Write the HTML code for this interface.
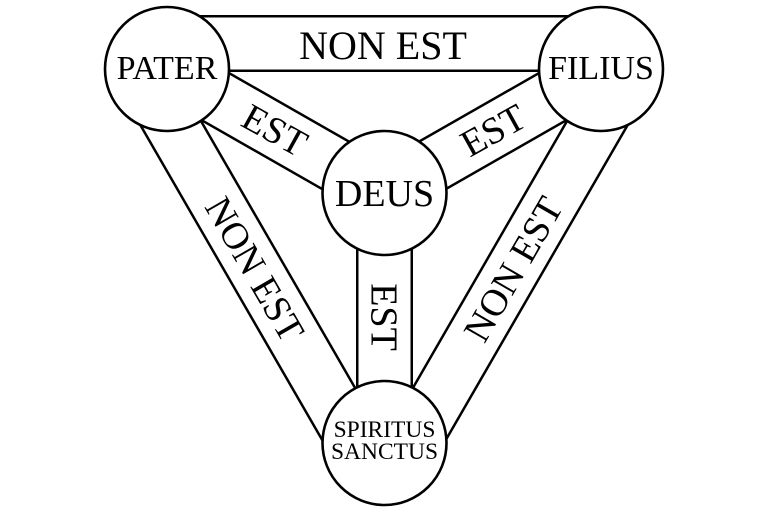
<!DOCTYPE html>
<html><head><style>body{margin:0;background:#fff}svg{display:block}</style></head><body>
<svg width="768" height="512" viewBox="0 0 768 512" xmlns="http://www.w3.org/2000/svg" font-family="'Liberation Serif',serif">
<g stroke-linecap="butt">
<g stroke="#000" stroke-width="57">
<line x1="167" y1="43.5" x2="601" y2="43.5"/>
<line x1="143.5" y1="76" x2="356" y2="444"/>
<line x1="624.5" y1="76" x2="412" y2="444"/>
<line x1="167" y1="69" x2="384" y2="193"/>
<line x1="601" y1="69" x2="384" y2="193"/>
<line x1="384.5" y1="193" x2="384.5" y2="443"/>
</g>
<g stroke="#fff" stroke-width="52">
<line x1="167" y1="43.5" x2="601" y2="43.5"/>
<line x1="143.5" y1="76" x2="356" y2="444"/>
<line x1="624.5" y1="76" x2="412" y2="444"/>
<line x1="167" y1="69" x2="384" y2="193"/>
<line x1="601" y1="69" x2="384" y2="193"/>
<line x1="384.5" y1="193" x2="384.5" y2="443"/>
</g>
</g>
<g fill="#fff" stroke="#000" stroke-width="2.6">
<circle cx="167" cy="69" r="62"/>
<circle cx="601" cy="69" r="62"/>
<circle cx="384.5" cy="193" r="62"/>
<circle cx="384.5" cy="443" r="62"/>
</g>
<g fill="#000" text-anchor="middle">
<text x="383" y="59" font-size="40">NON EST</text>
<text x="167" y="79" font-size="34">PATER</text>
<text x="601" y="79" font-size="34">FILIUS</text>
<text x="384.5" y="206" font-size="38">DEUS</text>
<text x="384.5" y="437" font-size="23.5">SPIRITUS</text>
<text x="384.5" y="459" font-size="23.5">SANCTUS</text>
<text transform="translate(275,130) rotate(29)" y="13" font-size="38">EST</text>
<text transform="translate(493,130) rotate(-29)" y="13" font-size="38">EST</text>
<text transform="translate(384.5,317) rotate(90)" y="13" font-size="38">EST</text>
<text transform="translate(255,269) rotate(60)" y="13" font-size="38">NON EST</text>
<text transform="translate(513,269) rotate(-60)" y="13" font-size="38">NON EST</text>
</g>
</svg>
</body></html>
